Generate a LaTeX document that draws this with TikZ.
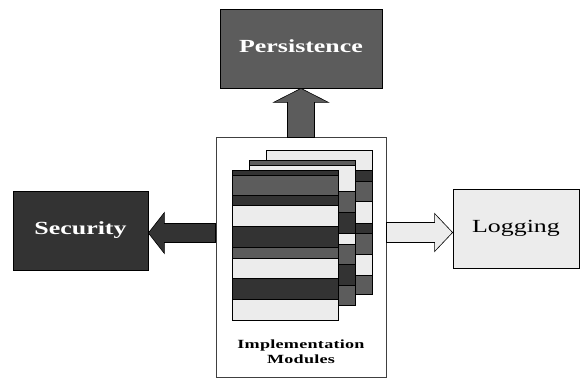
\documentclass[tikz,border=0pt]{standalone}
\usepackage{fontspec}
\setmainfont{Liberation Serif}
\newfontfamily\boxfont[FakeStretch=1.4]{Liberation Serif}
\newfontfamily\modfont[FakeStretch=1.45,LetterSpace=2]{Liberation Serif}
\usetikzlibrary{calc,positioning}

\definecolor{stripedark}{gray}{0.2}
\definecolor{stripemid}{gray}{0.36}
\definecolor{stripelite}{gray}{0.925}

% fat block arrow: from, to, shaft half width, head half width, head length, style
\def\fatarrow#1#2#3#4#5#6{%
  \path ($(#2)!#5!(#1)$) coordinate (fa-base);
  \filldraw[#6] ($(#1)!#3!90:(#2)$) -- ($(fa-base)!#3!-90:(#1)$)
    -- ($(fa-base)!#4!-90:(#1)$) -- (#2) -- ($(fa-base)!#4!90:(#1)$)
    -- ($(fa-base)!#3!90:(#1)$) -- ($(#1)!#3!-90:(#2)$) -- cycle;
}

\begin{document}
\begin{tikzpicture}[x=1pt,y=-1pt,
    box/.style={draw=black,line width=0.8pt,minimum width=#1,minimum height=79pt,inner sep=0pt},
    boxtext/.style={font={\boxfont\fontsize{18.5}{21}\selectfont}},
    boldtext/.style={text=white,font={\boxfont\bfseries\fontsize{18.5}{21}\selectfont}},
    stripe/.style={draw=black,line width=0.5pt},
    fat/.style={draw=black,line width=0.6pt,fill=#1}]
  \useasboundingbox (0,0) rectangle (581,379);

  \node[box=162pt,fill=stripemid,boldtext] (persist) at (301,48.5)
    {\raisebox{5pt}{Persistence}};
  \node[box=135pt,fill=stripedark,boldtext] (security) at (80.5,230.5) {Security};
  \node[box=126pt,fill=stripelite,boxtext] (logging) at (516,228.5) {Logging};
  \node[draw=black!75,line width=1pt,fill=white,minimum width=170pt,minimum height=239pt] (impl) at (301,257.5) {};
  \node[anchor=base,align=center,inner sep=0pt,
    font={\modfont\bfseries\fontsize{12.5}{15}\selectfont}] (impltext) at (301,363)
    {Implementation\\Modules};

  % arrows out of the modules box
  \coordinate (secfrom) at ($(impl.west)+(0,-24.5)$);
  \coordinate (secto) at (security.east |- secfrom);
  \coordinate (logfrom) at ($(impl.east)+(0,-25)$);
  \coordinate (logto) at (logging.west |- logfrom);
  \fatarrow{impl.north}{persist.south}{13.5pt}{27.5pt}{14pt}{fat=stripemid}
  \fatarrow{secfrom}{secto}{9.5pt}{20.5pt}{16pt}{fat=stripedark}
  \fatarrow{logfrom}{logto}{10pt}{19pt}{18pt}{fat=stripelite}

  % stack of modules, back to front
  \foreach \ya/\yb/\c in {150/170/stripelite,170/181/stripedark,181/201.7/stripemid,
      201.7/223.3/stripelite,223.3/233.3/stripedark,233.3/254/stripemid,
      254/275/stripelite,275/294.3/stripemid}
    \filldraw[stripe,fill=\c] (266,\ya) rectangle (372,\yb);
  \foreach \ya/\yb/\c in {160/165/stripemid,165/191.7/stripelite,191.7/212.3/stripemid,
      212.3/233.3/stripedark,233.3/244/stripelite,244/264/stripemid,
      264/285/stripedark,285/305/stripemid}
    \filldraw[stripe,fill=\c] (249,\ya) rectangle (355,\yb);
  \foreach \ya/\yb/\c in {170/175/stripedark,175/195/stripemid,195/205.7/stripedark,
      205.7/226.7/stripelite,226.7/247.3/stripedark,247.3/258.3/stripemid,
      258.3/278.3/stripelite,278.3/299.3/stripedark,299.3/320/stripelite}
    \filldraw[stripe,fill=\c] (232,\ya) rectangle (338,\yb);
\end{tikzpicture}
\end{document}
